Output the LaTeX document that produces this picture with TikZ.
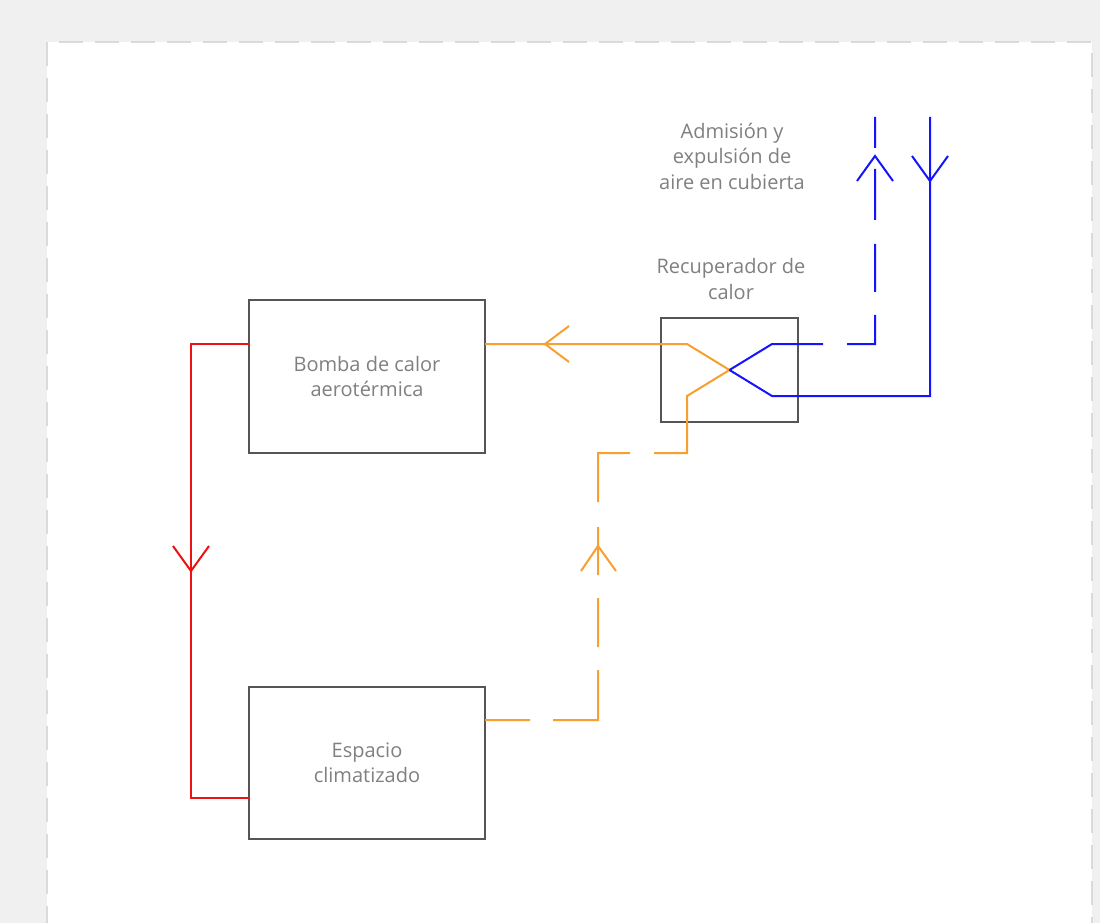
\documentclass[tikz,border=0pt]{standalone}
\usepackage{fontspec}
\setmainfont{Open Sans}
\usetikzlibrary{calc}
\definecolor{pagebg}{HTML}{F0F0F0}
\definecolor{pageedge}{HTML}{DADADA}
\definecolor{boxline}{HTML}{555555}
\definecolor{labelgray}{HTML}{808080}
\definecolor{heatred}{HTML}{EE1111}
\definecolor{airorange}{HTML}{F7A030}
\definecolor{airblue}{HTML}{1414FF}
\tikzset{
  unitbox/.style={draw=boxline, line width=1.8pt, minimum width=236pt, minimum height=153pt, inner sep=0pt, outer sep=0pt,
    text=labelgray, font=\fontsize{20}{25.5}\selectfont, align=center},
  hrvbox/.style={draw=boxline, line width=1.8pt, minimum width=137pt, minimum height=104pt, inner sep=0pt, outer sep=0pt},
  caption/.style={text=labelgray, font=\fontsize{20}{25.5}\selectfont, align=center, inner sep=0pt},
  pipe/.style={line width=2pt},
  chev/.style={line width=2pt},
}
\begin{document}
\begin{tikzpicture}[x=1pt,y=-1pt]
  % sheet and page
  \fill[pagebg] (0,0) rectangle (1100,923);
  \useasboundingbox (0,0) rectangle (1100,923);
  \fill[white] (47,42) rectangle (1092,930);
  \draw[pageedge, line width=1.5pt, dash pattern=on 24pt off 12pt] (47,930) -- (47,42) -- (1092,42) -- (1092,930);

  % units
  \node[unitbox] (bomba) at (367,376.5) {Bomba de calor\\aerotérmica};
  \node[unitbox, minimum height=152pt] (espacio) at (367,763) {Espacio\\climatizado};
  \node[hrvbox] (recup) at (729.5,370) {};
  \node[caption] (recuplbl) at (731,279) {Recuperador de\\calor};
  \node[caption] (roof) at (732,156) {Admisión y\\expulsión de\\aire en cubierta};

  % reference points
  \coordinate (x) at (recup.center);
  \coordinate (supplytop) at (930,117);
  \coordinate (exhausttop) at (875,117);

  % heating loop
  \draw[heatred, pipe] ($(bomba.north west)+(0,44)$) -- ++(-58,0) |- ($(espacio.north west)+(0,111)$);
  \draw[heatred, chev] (173,546) -- (191,571) -- (209,546);

  % indoor air circuit
  \draw[airorange, pipe, dash pattern=on 45pt off 23pt on 95pt off 23pt on 49pt off 23pt on 48pt off 25pt on 81pt off 24pt on 2000pt]
    ($(espacio.north east)+(0,33)$) -- (598,720) -- (598,453) -- (687,453) -- (687,396) -- (x)
    -- (687,344) -- ($(bomba.north east)+(0,44)$);
  \draw[airorange, chev] (569,326) -- (545,344) -- (569,362);
  \draw[airorange, chev] (581,571) -- (598,546) -- (616,571);

  % outdoor air circuit
  \draw[airblue, pipe] (x) -- (772,396) -- (930,396) -- (supplytop);
  \draw[airblue, pipe, dash pattern=on 101pt off 24pt on 57pt off 23pt on 48pt off 24pt on 51pt off 21pt on 40pt]
    (x) -- (772,344) -- (875,344) -- (exhausttop);
  \draw[airblue, chev] (912,156) -- (930,181) -- (948,156);
  \draw[airblue, chev] (857,181) -- (875,156) -- (893,181);
\end{tikzpicture}
\end{document}
